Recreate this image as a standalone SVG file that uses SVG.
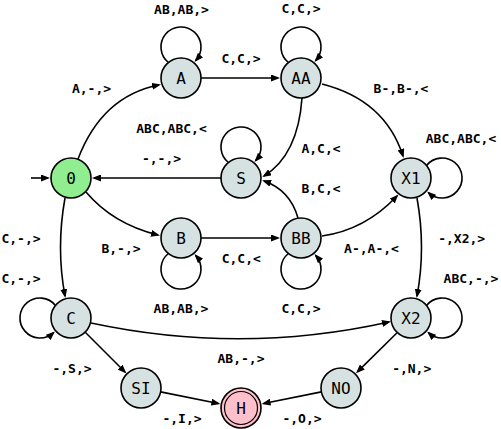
<svg xmlns="http://www.w3.org/2000/svg" width="501" height="429" viewBox="0 0 501 429">
<defs>
<marker id="arr" markerUnits="userSpaceOnUse" markerWidth="9" markerHeight="7" refX="7" refY="3.5" orient="auto">
<path d="M0,0 L9,3.5 L0,7 z" fill="#000"/>
</marker>
<style>
.n circle{fill:#d6e2e1;stroke:#000;stroke-width:1.6}
.n text{font-family:"DejaVu Sans Mono",monospace;font-size:16px;text-anchor:middle;fill:#000}
#edges path{fill:none;stroke:#000;stroke-width:1.6;marker-end:url(#arr)}
#labels text{font-family:"DejaVu Sans Mono",monospace;font-weight:bold;font-size:13px;text-anchor:middle;fill:#000}
</style>
</defs>
<rect width="501" height="429" fill="#fff"/>
<g id="edges">
<path d="M31,178 L48,178"/>
<path d="M78,159 Q102,96 159,85"/>
<path d="M201,78 L278,78"/>
<path d="M302,98 Q298,155 264,176"/>
<path d="M322,84 Q385,100 403,156"/>
<path d="M221,178 L94,178"/>
<path d="M298,218 Q290,190 264,181"/>
<path d="M86,192 Q113,224 158,235"/>
<path d="M201,238 L278,238"/>
<path d="M322,236 Q365,230 397,196"/>
<path d="M417,198 Q426,248 417,296"/>
<path d="M65,198 Q56,248 65,296"/>
<path d="M91,323 Q241,355 389,322"/>
<path d="M85,332 L125,372"/>
<path d="M160.6,391.9 L218.4,403.5"/>
<path d="M321.4,391.9 L263.6,403.5"/>
<path d="M396.8,333 L357.4,371.9"/>
<path d="M168.4,62.5 A20,20 0 1 1 195.8,60.4"/>
<path d="M288.4,62.5 A20,20 0 1 1 315.8,60.4"/>
<path d="M228.4,162.5 A20,20 0 1 1 255.8,160.4"/>
<path d="M426.5,165.4 A20,20 0 1 1 428.6,192.8"/>
<path d="M426.5,305.4 A20,20 0 1 1 428.6,332.8"/>
<path d="M168.4,253.5 A20,20 0 1 0 195.8,255.6"/>
<path d="M288.4,253.5 A20,20 0 1 0 315.8,255.6"/>
<path d="M55.5,305.4 A20,20 0 1 0 53.4,332.8"/>
</g>
<g id="labels">
<text x="181.5" y="13.7">AB,AB,&gt;</text>
<text x="301" y="13">C,C,&gt;</text>
<text x="241" y="63">C,C,&gt;</text>
<text x="91.5" y="93">A,-,&gt;</text>
<text x="171.5" y="133">ABC,ABC,&lt;</text>
<text x="161.5" y="163">-,-,&gt;</text>
<text x="401" y="93">B-,B-,&lt;</text>
<text x="321" y="153">A,C,&lt;</text>
<text x="321" y="193">B,C,&lt;</text>
<text x="461" y="143">ABC,ABC,&lt;</text>
<text x="21" y="243">C,-,&gt;</text>
<text x="121" y="253">B,-,&gt;</text>
<text x="241.3" y="262.5">C,C,&lt;</text>
<text x="371.5" y="253">A-,A-,&lt;</text>
<text x="461.7" y="243">-,X2,&gt;</text>
<text x="21" y="283">C,-,&gt;</text>
<text x="181" y="313">AB,AB,&gt;</text>
<text x="301" y="313">C,C,&gt;</text>
<text x="471" y="283">ABC,-,&gt;</text>
<text x="241" y="363">AB,-,&gt;</text>
<text x="72" y="373">-,S,&gt;</text>
<text x="411.7" y="373">-,N,&gt;</text>
<text x="182" y="423">-,I,&gt;</text>
<text x="302" y="423">-,O,&gt;</text>
</g>
<g id="n0" class="n"><circle cx="71" cy="178" r="20" style="fill:#90ee90"/><text x="71" y="183.8">0</text></g>
<g id="nA" class="n"><circle cx="181" cy="78" r="20"/><text x="181" y="83.8">A</text></g>
<g id="nAA" class="n"><circle cx="301" cy="78" r="20"/><text x="301" y="83.8">AA</text></g>
<g id="nS" class="n"><circle cx="241" cy="178" r="20"/><text x="241" y="183.8">S</text></g>
<g id="nX1" class="n"><circle cx="411" cy="178" r="20"/><text x="411" y="183.8">X1</text></g>
<g id="nB" class="n"><circle cx="181" cy="238" r="20"/><text x="181" y="243.8">B</text></g>
<g id="nBB" class="n"><circle cx="301" cy="238" r="20"/><text x="301" y="243.8">BB</text></g>
<g id="nC" class="n"><circle cx="71" cy="318" r="20"/><text x="71" y="323.8">C</text></g>
<g id="nX2" class="n"><circle cx="411" cy="318" r="20"/><text x="411" y="323.8">X2</text></g>
<g id="nSI" class="n"><circle cx="141" cy="388" r="20"/><text x="141" y="393.8">SI</text></g>
<g id="nNO" class="n"><circle cx="341" cy="388" r="20"/><text x="341" y="393.8">NO</text></g>
<g id="nH" class="n"><circle cx="241" cy="408" r="20" style="fill:#ffc0cb"/><circle cx="241" cy="408" r="16.5" style="fill:none;stroke-width:1.2"/><text x="241" y="413.8">H</text></g>
</svg>
